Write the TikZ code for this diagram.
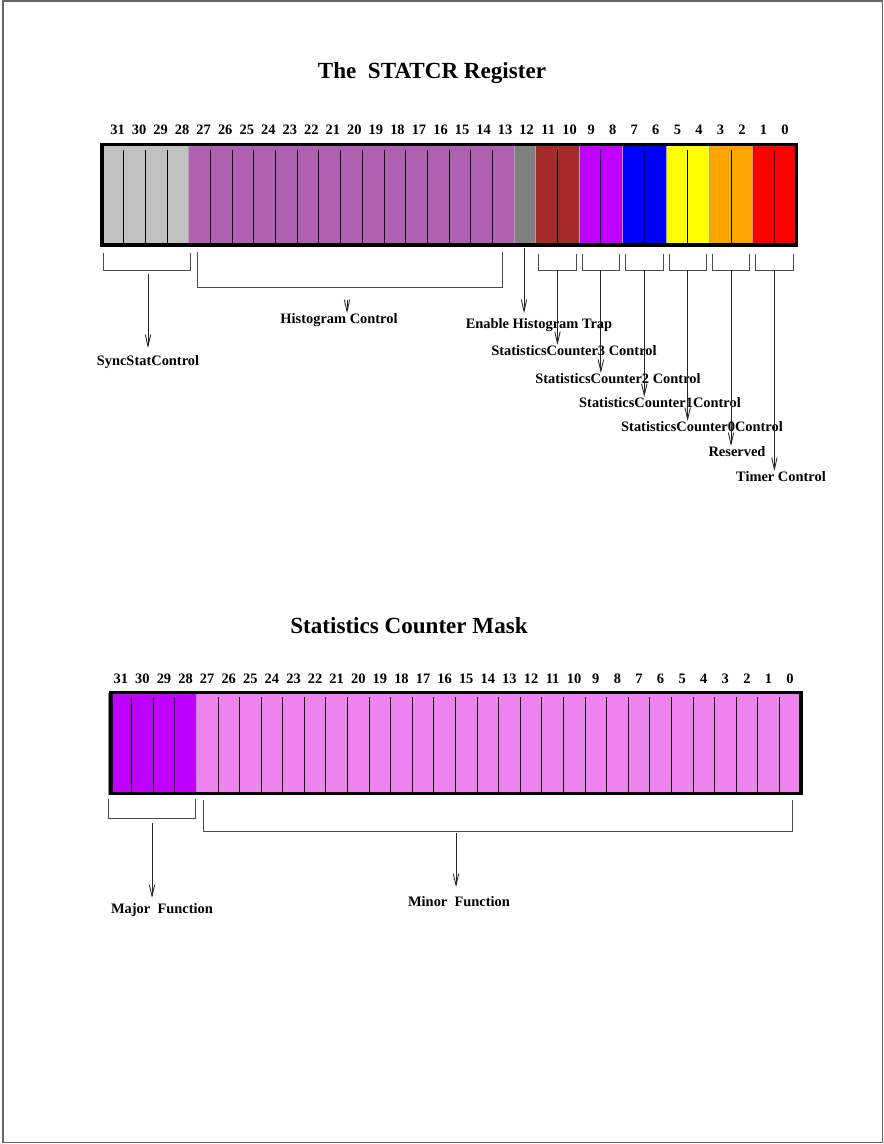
\documentclass[tikz,border=0pt]{standalone}
\usepackage{fontspec}
\setmainfont{Liberation Serif}
\usetikzlibrary{calc}
\usetikzlibrary{arrows.meta}

\definecolor{syncgray}{RGB}{192,192,192}
\definecolor{histpurple}{RGB}{176,96,176}
\definecolor{trapgray}{RGB}{128,128,128}
\definecolor{ctrbrown}{RGB}{165,42,42}
\definecolor{ctrviolet}{RGB}{191,0,255}
\definecolor{ctrblue}{RGB}{0,0,255}
\definecolor{ctryellow}{RGB}{255,255,0}
\definecolor{ctrorange}{RGB}{255,165,0}
\definecolor{ctrred}{RGB}{255,0,0}
\definecolor{minorpink}{RGB}{238,130,238}

\begin{document}
\begin{tikzpicture}[
		x=0.693pt, y=-0.693pt,
		>={Straight Barb[length=8pt,width=3.8pt]},
		bitnum/.style={font=\bfseries\fontsize{10}{12}\selectfont, inner sep=0pt},
		lbl/.style={font=\bfseries\fontsize{10}{12}\selectfont, inner sep=0pt, anchor=north},
		heading/.style={font=\bfseries\fontsize{16}{19}\selectfont, inner sep=0pt, anchor=north},
		regbox/.style={line width=2.2pt},
		field/.style={draw=black!35, line width=0.5pt},
		cell/.style={black, line width=0.6pt},
		bracket/.style={black!70, line width=0.6pt},
		pointer/.style={->, black!85, line width=0.6pt},
	]
	\useasboundingbox (0,0) rectangle (883,1144);
	\draw[black!60, line width=0.7pt] (3,1) rectangle (882,1142);

	% STATCR register
	\def\cw{21.69}
	\node[heading] (top title) at (432,62) {The~ STATCR Register};
	\foreach \hi/\lo/\col in {31/28/syncgray, 27/13/histpurple, 12/12/trapgray, 11/10/ctrbrown, 9/8/ctrviolet, 7/6/ctrblue, 5/4/ctryellow, 3/2/ctrorange, 1/0/ctrred}
		\filldraw[field, fill=\col] ({102+(31-\hi)*\cw},145) rectangle ({102+(32-\lo)*\cw},245);
	\foreach \k in {1,2,3,5,6,...,18,21,23,25,27,29,31}
		\draw[cell] ({102+\k*\cw},150) -- ({102+\k*\cw},245);
	\draw[regbox] (102,144.5) rectangle (796.5,245);
	\foreach \k in {0,...,31}
		\node[bitnum] (top bit \k) at ({785-\k*21.53},130) {\k};

	\draw[bracket] (103,253) -- (103,270) -- (190,270) -- (190,253);
	\coordinate (sync) at (148,270);
	\draw[bracket] (197,252) -- (197,287) -- (502,287) -- (502,252);
	\coordinate (hist) at (347,287);
	\coordinate (trap) at (524,248);
	\foreach \name/\hi in {ctr3/11, ctr2/9, ctr1/7, ctr0/5, rsvd/3, timer/1} {
		\draw[bracket] ({102+(31-\hi)*\cw+3},254) -- ++(0,16) -- ({102+(33-\hi)*\cw-3},270) -- ++(0,-16);
		\coordinate (\name) at ({102+(32-\hi)*\cw},270);
	}

	\node[lbl] (sync ctl) at (148,355) {SyncStatControl};
	\node[lbl] (hist ctl) at (339,313) {Histogram Control};
	\node[lbl] (trap ctl) at (539,318) {Enable Histogram Trap};
	\node[lbl] (ctr3 ctl) at (574,345) {StatisticsCounter3 Control};
	\node[lbl] (ctr2 ctl) at (618,373) {StatisticsCounter2 Control};
	\node[lbl] (ctr1 ctl) at (660,397) {StatisticsCounter1Control};
	\node[lbl] (ctr0 ctl) at (702,421) {StatisticsCounter0Control};
	\node[lbl] (rsvd ctl) at (737,446) {Reserved};
	\node[lbl] (timer ctl) at (781,471) {Timer Control};

	\draw[pointer, shorten <=2.8pt, shorten >=4.9pt] (sync) -- (sync |- sync ctl.north);
	\draw[pointer, shorten <=9pt] (hist) -- (hist |- hist ctl.north);
	\draw[pointer, shorten >=3.5pt] (trap) -- (trap |- trap ctl.north);
	\foreach \name in {ctr3, ctr2, ctr1, ctr0, rsvd, timer}
		\draw[pointer] (\name) -- (\name |- \name\space ctl.north);

	% counter mask
	\def\mw{21.59}
	\node[heading] (mask title) at (409,617) {Statistics Counter Mask};
	\draw[black!45, line width=0.6pt] (108,693) rectangle (112,794);
	\filldraw[field, fill=ctrviolet] (110,692.5) rectangle ({110+4*\mw},793.5);
	\filldraw[field, fill=minorpink] ({110+4*\mw},692.5) rectangle (801,793.5);
	\foreach \k in {1,2,3,5,6,...,31}
		\draw[cell] ({110+\k*\mw},697) -- ({110+\k*\mw},793.5);
	\draw[regbox] (111,692.5) rectangle (801,793.5);
	\foreach \k in {0,...,31}
		\node[bitnum] (mask bit \k) at ({110+(31.5-\k)*\mw},678.5) {\k};

	\draw[bracket] (108,799) -- (108,818) -- (195,818) -- (195,799);
	\coordinate (major) at (152,818);
	\draw[bracket] (203,800) -- (203,831) -- (792,831) -- (792,800);
	\coordinate (minor) at (456,831);
	\node[lbl] (major fn) at (162,903) {Major~ Function};
	\node[lbl] (minor fn) at (459,896) {Minor~ Function};
	\draw[pointer, shorten <=3.5pt, shorten >=3.5pt] (major) -- (major |- major fn.north);
	\draw[pointer, shorten <=1.4pt, shorten >=6.2pt] (minor) -- (minor |- minor fn.north);
\end{tikzpicture}
\end{document}
